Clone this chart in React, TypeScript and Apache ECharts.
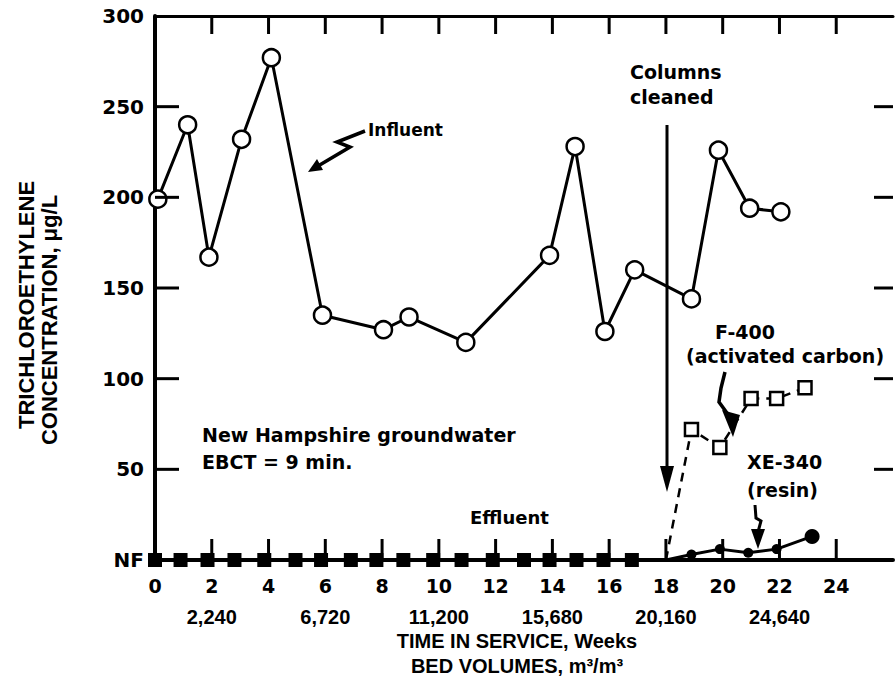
import React, { useEffect, useRef } from "react";
import * as echarts from "echarts";

// Influent (open circles)
const influentWeeks = [0.1, 1.15, 1.9, 3.05, 4.1, 5.9, 8.05, 8.95, 10.95, 13.9, 14.8, 15.85, 16.9, 18.9, 19.85, 20.95, 22.05];
const influentValues = [199, 240, 167, 232, 277, 135, 127, 134, 120, 168, 228, 126, 160, 144, 226, 194, 192];

// Effluent before cleaning (filled squares, NF)
const effluentWeeks = [0, 0.9, 1.85, 2.8, 3.85, 4.95, 5.85, 6.9, 7.8, 8.75, 9.8, 10.8, 11.9, 13.0, 13.9, 14.85, 15.8, 16.8];
const effluentValues = [0, 0, 0, 0, 0, 0, 0, 0, 0, 0, 0, 0, 0, 0, 0, 0, 0, 0];

// F-400 activated carbon effluent (open squares, dashed)
const f400Weeks = [18, 18.9, 19.9, 21.0, 21.9, 22.9];
const f400Values = [0, 72, 62, 89, 89, 95];

// XE-340 resin effluent (filled circles)
const xe340Weeks = [18, 18.9, 19.9, 20.9, 21.9, 23.15];
const xe340Values = [0, 3, 6, 4, 6, 13];

// Tick values and labels
const weekTicks = [2, 4, 6, 8, 10, 12, 14, 16, 18, 20, 22, 24];
const concTicks = [50, 100, 150, 200, 250];
const bedVolumeWeeks = [2, 6, 10, 14, 18, 22];
const bedVolumeLabels = ["2,240", "6,720", "11,200", "15,680", "20,160", "24,640"];

const BOLD_WIDE = '"DejaVu Sans"';
const BOLD_NARROW = '"Liberation Sans"';

const X_MIN = 0;
const X_MAX = 26;
const Y_MIN = 0;
const Y_MAX = 300;

const GRID = { left: 155, top: 16, width: 742, height: 544 };

export default function App() {
  const ref = useRef<HTMLDivElement>(null);

  useEffect(() => {
    const chart = echarts.init(ref.current!, null, { renderer: "svg" });
    const ann = (text: string, x: number, y: number, align = "left", size = 19) => ({
      type: "text",
      x,
      y,
      z: 10,
      style: {
        text,
        font: `bold ${size}px ${BOLD_WIDE}`,
        fill: "#000",
        align,
        textAlign: align,
        verticalAlign: "middle",
        textVerticalAlign: "middle",
      },
    });
    const titleText = (text: string, x: number, y: number, size: number, rotation = 0) => ({
      type: "text",
      x,
      y,
      rotation,
      style: {
        text,
        font: `bold ${size}px ${BOLD_NARROW}`,
        fill: "#000",
        align: "center",
        textAlign: "center",
        verticalAlign: "middle",
        textVerticalAlign: "middle",
      },
    });
    const stroke = { stroke: "#000", lineWidth: 3, fill: null as any };

    // Inward tick marks drawn as thin rectangular symbols at the tick values
    const tickSeries = (data: number[][], size: number[], offset: number[]) => ({
      type: "scatter",
      data,
      symbol: "rect",
      symbolSize: size,
      symbolOffset: offset,
      itemStyle: { color: "#000", opacity: 1 },
      silent: true,
      clip: false,
      z: 5,
      emphasis: { disabled: true },
      tooltip: { show: false },
    });

    const option: any = {
      animation: false,
      backgroundColor: "#fff",
      grid: { ...GRID },
      xAxis: [
        {
          type: "value",
          position: "bottom",
          min: X_MIN,
          max: X_MAX,
          interval: 2,
          axisLine: { show: true, onZero: false, lineStyle: { color: "#000", width: 4 } },
          axisTick: { show: false },
          axisLabel: {
            margin: 16,
            formatter: (v: number) => (v <= 24 ? String(v) : ""),
            color: "#000",
            fontFamily: "DejaVu Sans",
            fontWeight: "bold",
            fontSize: 19,
          },
          splitLine: { show: false },
        },
        {
          type: "value",
          position: "bottom",
          offset: 31,
          min: X_MIN,
          max: X_MAX,
          interval: 2,
          axisLine: { show: false, onZero: false },
          axisTick: { show: false },
          axisLabel: {
            margin: 16,
            formatter: (v: number) => {
              const i = bedVolumeWeeks.indexOf(v);
              return i >= 0 ? bedVolumeLabels[i] : "";
            },
            color: "#000",
            fontFamily: "Liberation Sans",
            fontWeight: "bold",
            fontSize: 20,
          },
          splitLine: { show: false },
        },
        {
          type: "value",
          position: "top",
          min: X_MIN,
          max: X_MAX,
          interval: 2,
          axisLine: { show: true, onZero: false, lineStyle: { color: "#000", width: 3 } },
          axisTick: { show: false },
          axisLabel: { show: false },
          splitLine: { show: false },
        },
      ],
      yAxis: [
        {
          type: "value",
          position: "left",
          min: Y_MIN,
          max: Y_MAX,
          interval: 50,
          axisLine: { show: true, onZero: false, lineStyle: { color: "#000", width: 4 } },
          axisTick: { show: false },
          axisLabel: {
            margin: 11,
            formatter: (v: number) => (v === 0 ? "NF" : String(v)),
            color: "#000",
            fontFamily: "DejaVu Sans",
            fontWeight: "bold",
            fontSize: 20,
          },
          splitLine: { show: false },
        },
      ],
      series: [
        tickSeries(weekTicks.map((w) => [w, Y_MIN]), [3, 21], [0, -10.5]),
        tickSeries(weekTicks.map((w) => [w, Y_MAX]), [3, 18], [0, 9]),
        tickSeries(concTicks.map((v) => [X_MIN, v]), [24, 3], [12, 0]),
        tickSeries(concTicks.map((v) => [X_MAX, v]), [19, 3], [-9.5, 0]),
        {
          name: "Effluent",
          type: "line",
          xAxisIndex: 0,
          yAxisIndex: 0,
          data: effluentWeeks.map((w, i) => [w, effluentValues[i]]),
          symbol: "rect",
          symbolSize: 14,
          itemStyle: { color: "#000" },
          lineStyle: { color: "#000", width: 3 },
          clip: false,
          z: 3,
        },
        {
          name: "F-400",
          type: "line",
          data: f400Weeks.map((w, i) =>
            i === 0 ? { value: [w, f400Values[i]], symbol: "none" } : [w, f400Values[i]]
          ),
          symbol: "rect",
          symbolSize: 13,
          showAllSymbol: true,
          itemStyle: { color: "#fff", borderColor: "#000", borderWidth: 2.5 },
          lineStyle: { color: "#000", width: 2.5, type: [9, 7] },
          clip: false,
          z: 3,
        },
        {
          name: "XE-340",
          type: "line",
          data: xe340Weeks.map((w, i) =>
            i === 0
              ? { value: [w, xe340Values[i]], symbol: "none" }
              : i === xe340Weeks.length - 1
              ? { value: [w, xe340Values[i]], symbolSize: 15 }
              : [w, xe340Values[i]]
          ),
          symbol: "circle",
          symbolSize: 10,
          itemStyle: { color: "#000" },
          lineStyle: { color: "#000", width: 3 },
          clip: false,
          z: 3,
        },
        {
          name: "Influent",
          type: "line",
          data: influentWeeks.map((w, i) => [w, influentValues[i]]),
          symbol: "circle",
          symbolSize: 17,
          itemStyle: { color: "#fff", borderColor: "#000", borderWidth: 2.5 },
          lineStyle: { color: "#000", width: 3 },
          clip: false,
          z: 4,
        },
      ],
      graphic: [
        // Axis titles
        titleText("TIME IN SERVICE, Weeks", 517, 641, 20),
        titleText("BED VOLUMES, m\u00b3/m\u00b3", 517, 666, 20),
        titleText("TRICHLOROETHYLENE", 26, 305, 22, Math.PI / 2),
        titleText("CONCENTRATION, \u03bcg/L", 49, 320, 22, Math.PI / 2),
        // Annotations
        ann("Influent", 368, 130, "left", 17),
        ann("Columns", 630, 72),
        ann("cleaned", 630, 97),
        ann("F-400", 715, 332),
        ann("(activated carbon)", 686, 356),
        ann("XE-340", 747, 462),
        ann("(resin)", 747, 490),
        ann("New Hampshire groundwater", 202, 435),
        ann("EBCT = 9 min.", 202, 462),
        ann("Effluent", 470, 517, "left", 18),
        // Influent lightning arrow
        { type: "polyline", z: 10, shape: { points: [[365, 131], [337, 142], [350, 147], [318, 166]] }, style: { ...stroke, lineWidth: 3.5 } },
        { type: "polygon", z: 10, shape: { points: [[308, 172], [323, 170], [317, 159]] }, style: { fill: "#000" } },
        // Columns cleaned arrow
        { type: "line", z: 10, shape: { x1: 667, y1: 125, x2: 667, y2: 475 }, style: { stroke: "#000", lineWidth: 3 } },
        { type: "polygon", z: 10, shape: { points: [[660, 466], [674, 466], [667, 492]] }, style: { fill: "#000" } },
        // F-400 arrow
        { type: "polyline", z: 10, shape: { points: [[725, 372], [721, 388], [719, 402], [727, 413]] }, style: { ...stroke, lineWidth: 3.5 } },
        { type: "polygon", z: 10, shape: { points: [[722, 410], [740, 415], [733, 437]] }, style: { fill: "#000" } },
        // XE-340 arrow
        { type: "polyline", z: 10, shape: { points: [[755, 505], [756, 518], [761, 521], [758, 532]] }, style: { ...stroke, lineWidth: 3 } },
        { type: "polygon", z: 10, shape: { points: [[751, 529], [765, 529], [758, 549]] }, style: { fill: "#000" } },
      ],
    };
    chart.setOption(option);
    return () => chart.dispose();
  }, []);

  return (
    <div
      ref={ref}
      style={{ position: "fixed", left: 0, top: 0, width: 896, height: 696, background: "#fff" }}
    />
  );
}
